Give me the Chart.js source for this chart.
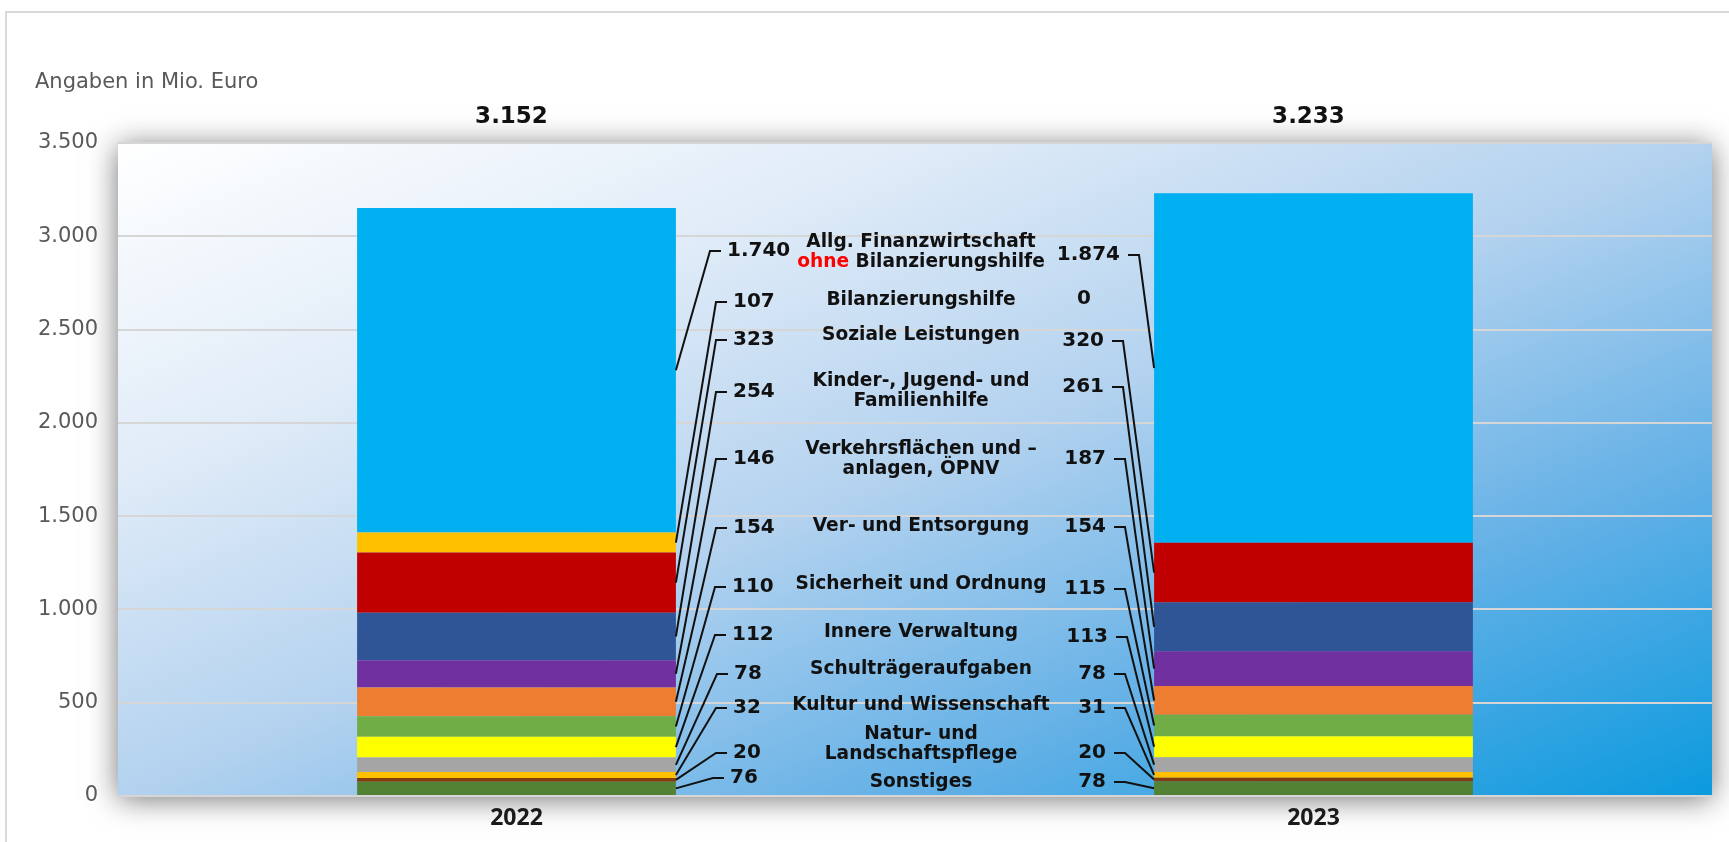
<!DOCTYPE html>
<html>
<head>
<meta charset="utf-8">
<script src="https://cdn.jsdelivr.net/npm/chart.js@4"></script>
<style>
  html, body { margin: 0; padding: 0; background: #ffffff; }
  #wrap { width: 1729px; height: 842px; position: relative; }
  canvas { display: block; }
</style>
</head>
<body>
<div id="wrap"><canvas id="c" width="1729" height="842"></canvas></div>
<script>
// ---------- DATA (top of stack first, as listed in the middle column) ----------
const categories = ['2022', '2023'];
const segmentNames = [
  'Allg. Finanzwirtschaft ohne Bilanzierungshilfe',
  'Bilanzierungshilfe',
  'Soziale Leistungen',
  'Kinder-, Jugend- und Familienhilfe',
  'Verkehrsflächen und –anlagen, ÖPNV',
  'Ver- und Entsorgung',
  'Sicherheit und Ordnung',
  'Innere Verwaltung',
  'Schulträgeraufgaben',
  'Kultur und Wissenschaft',
  'Natur- und Landschaftspflege',
  'Sonstiges'
];
// text lines of the middle column; parts flagged red are drawn in red
const segmentLabelLines = [
  [[{ t: 'Allg. Finanzwirtschaft' }], [{ t: 'ohne', red: true }, { t: ' Bilanzierungshilfe' }]],
  [[{ t: 'Bilanzierungshilfe' }]],
  [[{ t: 'Soziale Leistungen' }]],
  [[{ t: 'Kinder-, Jugend- und' }], [{ t: 'Familienhilfe' }]],
  [[{ t: 'Verkehrsflächen und –' }], [{ t: 'anlagen, ÖPNV' }]],
  [[{ t: 'Ver- und Entsorgung' }]],
  [[{ t: 'Sicherheit und Ordnung' }]],
  [[{ t: 'Innere Verwaltung' }]],
  [[{ t: 'Schulträgeraufgaben' }]],
  [[{ t: 'Kultur und Wissenschaft' }]],
  [[{ t: 'Natur- und' }], [{ t: 'Landschaftspflege' }]],
  [[{ t: 'Sonstiges' }]]
];
const values2022 = [1740, 107, 323, 254, 146, 154, 110, 112, 78, 32, 20, 76];
const values2023 = [1874, 0, 320, 261, 187, 154, 115, 113, 78, 31, 20, 78];
const totals = [3152, 3233];
const yTickValues = [0, 500, 1000, 1500, 2000, 2500, 3000, 3500];
const yTickLabels = ['0', '500', '1.000', '1.500', '2.000', '2.500', '3.000', '3.500'];
const axisNote = 'Angaben in Mio. Euro';

// ---------- STYLE / LAYOUT (kept apart from the data) ----------
const segmentColors = ['#00b0f0', '#ffc000', '#c00000', '#2f5597', '#7030a0', '#ed7d31',
                       '#70ad47', '#ffff00', '#a5a5a5', '#ffc000', '#843c0c', '#548235'];
const textDy = 2;
const nameRowCenterY = [250, 298, 333, 389, 457, 524, 582, 630, 667, 703, 742, 780];
const leftValueY     = [249, 300, 338, 390, 457, 526, 585, 633, 672, 706, 751, 776];
const rightValueY    = [253, 297, 339, 385, 457, 525, 587, 635, 672, 706, 751, 780];
const leftValueX     = [727, 733, 733, 733, 733, 733, 732, 732, 734, 733, 733, 730];
const rightValueX    = [1120, 1106, 1104, 1104, 1106, 1106, 1106, 1108, 1106, 1106, 1106, 1106];
const lineSpacing = 20.5;
const nameCenterX = 921;

function fmt(v) { return String(v).replace(/\B(?=(\d{3})+(?!\d))/g, '.'); }

// datasets bottom-up for Chart.js stacking
const datasets = [];
for (let i = segmentNames.length - 1; i >= 0; i--) {
  datasets.push({
    label: segmentNames[i],
    data: [values2022[i], values2023[i]],
    backgroundColor: segmentColors[i],
    borderWidth: 0,
    categoryPercentage: 0.8,
    barPercentage: 0.5,
    _row: i
  });
}

const decoPlugin = {
  id: 'deco',
  beforeDraw(chart) {
    const { ctx, chartArea } = chart;
    const { left, top, right, bottom } = chartArea;
    const w = right - left, h = bottom - top;
    ctx.save();
    // outer frame
    ctx.strokeStyle = '#d9d9d9';
    ctx.lineWidth = 2;
    ctx.beginPath();
    ctx.moveTo(6, 842); ctx.lineTo(6, 12); ctx.lineTo(1729, 12);
    ctx.stroke();
    // plot area shadow
    ctx.shadowColor = 'rgba(0,0,0,0.55)';
    ctx.shadowBlur = 28;
    ctx.shadowOffsetY = 3;
    ctx.fillStyle = '#ffffff';
    ctx.fillRect(left, top, w, h);
    ctx.restore();
    // gradient plot background (diagonal in normalized space)
    ctx.save();
    ctx.translate(left, top);
    ctx.scale(w, h);
    const g = ctx.createLinearGradient(0, 0, 1, 1);
    g.addColorStop(0, '#ffffff');
    g.addColorStop(0.25, '#e1ecf8');
    g.addColorStop(0.5, '#b3d2ef');
    g.addColorStop(0.75, '#62b0e6');
    g.addColorStop(1, '#0b9ade');
    ctx.fillStyle = g;
    ctx.fillRect(0, 0, 1, 1);
    ctx.restore();
    // axis note
    ctx.save();
    ctx.font = '21px "DejaVu Sans"';
    ctx.fillStyle = '#595959';
    ctx.textBaseline = 'middle';
    ctx.textAlign = 'left';
    ctx.fillText(axisNote, 35, 83);
    ctx.restore();
  },
  afterDatasetsDraw(chart) {
    const { ctx, chartArea } = chart;
    ctx.save();
    // totals above the bars
    ctx.font = 'bold 23px "DejaVu Sans"';
    ctx.fillStyle = '#111111';
    ctx.textAlign = 'center';
    ctx.textBaseline = 'middle';
    const meta0 = chart.getDatasetMeta(0);
    meta0.data.forEach((bar, j) => {
      ctx.fillText(fmt(totals[j]), bar.x - 5, chartArea.top - 26);
    });

    // middle column names
    ctx.font = 'bold 18.6px "DejaVu Sans"';
    segmentLabelLines.forEach((lines, r) => {
      const n = lines.length;
      lines.forEach((parts, li) => {
        const y = nameRowCenterY[r] + textDy + (li - (n - 1) / 2) * lineSpacing;
        let total = 0;
        parts.forEach(p => { total += ctx.measureText(p.t).width; });
        let x = nameCenterX - total / 2;
        ctx.textAlign = 'left';
        parts.forEach(p => {
          ctx.fillStyle = p.red ? '#ff0000' : '#111111';
          ctx.fillText(p.t, x, y);
          x += ctx.measureText(p.t).width;
        });
      });
    });

    // values and leader lines
    ctx.font = 'bold 20px "DejaVu Sans"';
    ctx.fillStyle = '#111111';
    ctx.strokeStyle = '#111111';
    ctx.lineWidth = 2;
    ctx.lineJoin = 'miter';
    chart.data.datasets.forEach((ds, di) => {
      const r = ds._row;
      const meta = chart.getDatasetMeta(di);
      // 2022 (left)
      const b0 = meta.data[0].getProps(['x', 'y', 'base', 'width'], true);
      const mid0 = (b0.y + b0.base) / 2;
      const ly = leftValueY[r] + textDy;
      const lx = leftValueX[r];
      ctx.textAlign = 'left';
      ctx.fillText(fmt(ds.data[0]), lx, ly);
      if (ds.data[0] > 0) {
        ctx.beginPath();
        ctx.moveTo(lx - 6, ly);
        ctx.lineTo(lx - 17, ly);
        ctx.lineTo(b0.x + b0.width / 2, mid0);
        ctx.stroke();
      }
      // 2023 (right)
      const b1 = meta.data[1].getProps(['x', 'y', 'base', 'width'], true);
      const mid1 = (b1.y + b1.base) / 2;
      const ry = rightValueY[r] + textDy;
      const rx = rightValueX[r];
      if (ds.data[1] > 0) {
        ctx.textAlign = 'right';
        ctx.fillText(fmt(ds.data[1]), rx, ry);
        ctx.beginPath();
        ctx.moveTo(rx + 8, ry);
        ctx.lineTo(rx + 19, ry);
        ctx.lineTo(b1.x - b1.width / 2, mid1);
        ctx.stroke();
      } else {
        ctx.textAlign = 'center';
        ctx.fillText(fmt(ds.data[1]), rx - 22, ry);
      }
    });
    ctx.restore();
  }
};

new Chart(document.getElementById('c'), {
  type: 'bar',
  data: { labels: categories, datasets },
  plugins: [decoPlugin],
  options: {
    responsive: false,
    animation: false,
    devicePixelRatio: 1,
    layout: { padding: { left: 0, right: 17, top: 143, bottom: 0 } },
    plugins: { legend: { display: false }, tooltip: { enabled: false }, title: { display: false } },
    scales: {
      x: {
        stacked: true,
        grid: { display: false, drawTicks: false },
        border: { display: false },
        ticks: {
          color: '#1a1a1a',
          font: { family: '"Open Sans"', weight: 'bold', size: 23 },
          padding: 9
        },
        afterFit(s) { s.height = 46; }
      },
      y: {
        stacked: true,
        min: 0,
        max: 3500,
        afterBuildTicks(s) { s.ticks = yTickValues.map(v => ({ value: v })); },
        grid: { color: '#d6d6d6', lineWidth: 2, drawTicks: false },
        border: { display: false },
        ticks: {
          color: '#595959',
          font: { family: '"DejaVu Sans"', size: 21 },
          padding: 20,
          callback(v) { const k = yTickValues.indexOf(v); return k >= 0 ? yTickLabels[k] : ''; }
        },
        afterFit(s) { s.width = 118; }
      }
    }
  }
});
</script>
</body>
</html>
